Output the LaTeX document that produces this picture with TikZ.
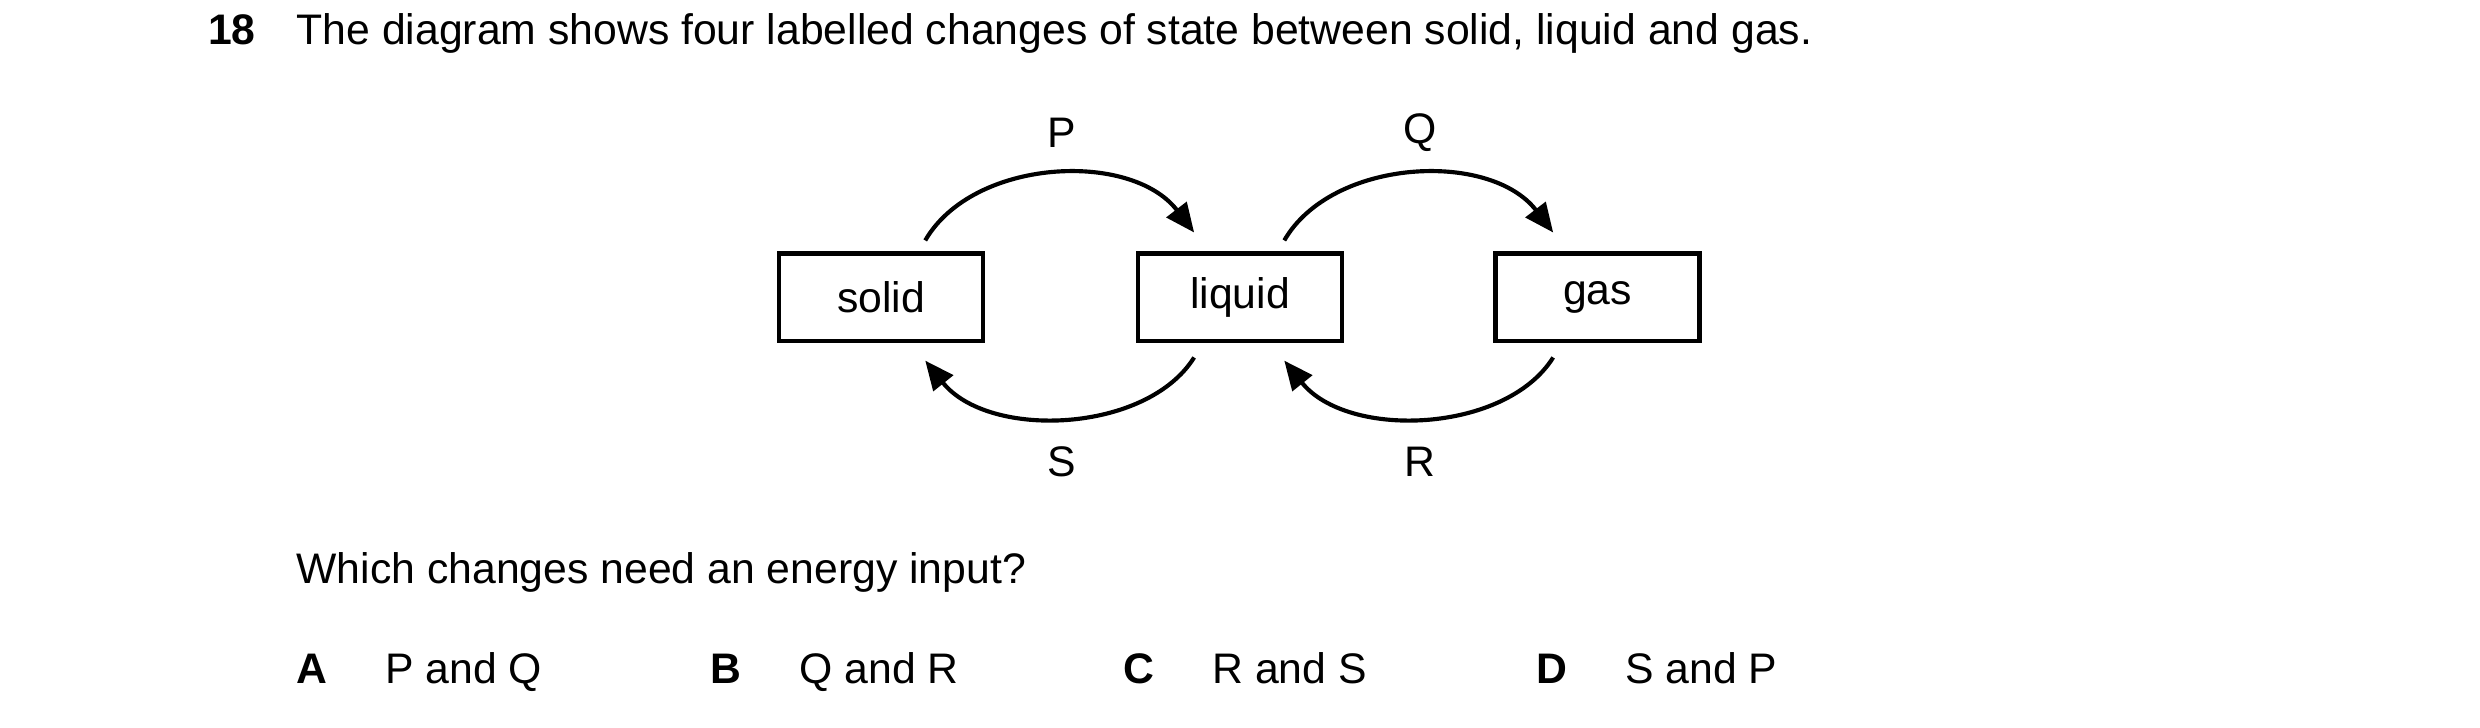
\documentclass[tikz,border=0pt]{standalone}
\usepackage{fontspec}
\setmainfont{Liberation Sans}
\usetikzlibrary{arrows.meta}
\tikzset{
  state/.style={draw,line width=1.1pt,minimum width=1.73cm,minimum height=0.74cm,inner sep=0pt},
  change/.style={line width=1pt,-{Triangle[length=7pt,width=6pt]}},
  lbl/.style={inner sep=0pt}
}
\begin{document}
\begin{tikzpicture}[x=0.01339cm,y=-0.01339cm,font=\fontsize{10.3}{12}\selectfont]
\useasboundingbox (0,0) rectangle (1568,460);
%question
\node[lbl,anchor=base west] (num) at (131,28) {\textbf{18}};
\node[lbl,anchor=base west] (qtext) at (187,28) {The diagram shows four labelled changes of state between solid, liquid and gas.};
%boxes
\node[state] (solid) at (557,188) {solid};
\node[state] (liquid) at (784,188) {liquid};
\node[state] (gas) at (1010,188) {gas};
%arrow ends
\coordinate (p1) at (585,152);
\coordinate (p2) at (755,147);
\coordinate (q1) at (812,152);
\coordinate (q2) at (982,147);
\coordinate (s1) at (755,226);
\coordinate (s2) at (585,228);
\coordinate (r1) at (982,226);
\coordinate (r2) at (812,228);
\draw[change] (p1) .. controls (615,100) and (715,95) .. (p2);
\draw[change] (q1) .. controls (842,100) and (942,95) .. (q2);
\draw[change] (s1) .. controls (725,274) and (625,278) .. (s2);
\draw[change] (r1) .. controls (952,274) and (852,278) .. (r2);
%labels
\node[lbl] (P) at (671,84) {P};
\node[lbl] (Q) at (898,84) {Q};
\node[lbl] (S) at (671,292) {S};
\node[lbl] (R) at (898,292) {R};
%answers
\node[lbl,anchor=base west] (ask) at (187,369) {Which changes need an energy input?};
\node[lbl,anchor=base west] (A) at (187,432) {\textbf{A}};
\node[lbl,anchor=base west] (Aans) at (243,432) {P and Q};
\node[lbl,anchor=base west] (B) at (449,432) {\textbf{B}};
\node[lbl,anchor=base west] (Bans) at (505,432) {Q and R};
\node[lbl,anchor=base west] (C) at (710,432) {\textbf{C}};
\node[lbl,anchor=base west] (Cans) at (766,432) {R and S};
\node[lbl,anchor=base west] (D) at (971,432) {\textbf{D}};
\node[lbl,anchor=base west] (Dans) at (1027,432) {S and P};
\end{tikzpicture}
\end{document}
